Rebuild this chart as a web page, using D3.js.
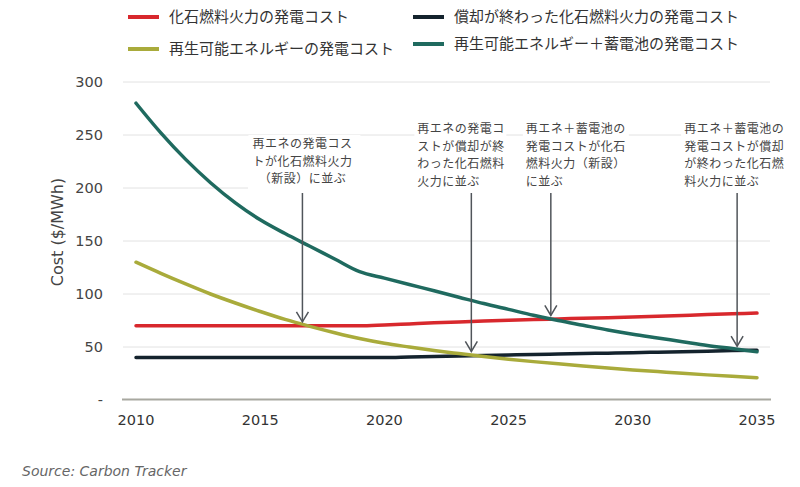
<!DOCTYPE html>
<html>
<head>
<meta charset="utf-8">
<script src="https://cdn.jsdelivr.net/npm/d3@7"></script>
<style>
  body { margin: 0; background: #fff; }
  svg { display: block; }
</style>
</head>
<body>
<div id="chart"></div>
<script>
// data
const years = d3.range(2010, 2036)
const fossilNew = [70, 70, 70, 70, 70, 70, 70, 70, 70, 70, 70.8, 71.8, 72.8, 73.7, 74.5, 75.2, 75.9, 76.5, 77.1, 77.7, 78.3, 79, 79.8, 80.6, 81.3, 82]
const fossilDep = [40, 40, 40, 40, 40, 40, 40, 40, 40, 40, 40, 40.5, 41, 41.5, 42, 42.5, 43, 43.4, 43.8, 44.2, 44.6, 45.1, 45.6, 46.1, 46.6, 47]
const renew = [130, 119.5, 109.5, 100, 91.5, 83.5, 76, 69.5, 63.5, 58, 53.5, 50, 46.7, 43.8, 41, 38.5, 36.2, 34.1, 32.1, 30.2, 28.4, 26.8, 25.2, 23.7, 22.3, 21]
const renewBatt = [280, 252, 227, 205, 186, 170, 157, 145, 133, 121, 115, 109, 103, 97, 91, 85.5, 80, 75, 70.5, 66, 62, 58.5, 55, 51.5, 48.5, 45.5]

const seriesNames = ['化石燃料火力の発電コスト', '償却が終わった化石燃料火力の発電コスト',
  '再生可能エネルギーの発電コスト', '再生可能エネルギー＋蓄電池の発電コスト']
const seriesColors = ['#d8282d', '#14232d', '#a9ab3b', '#1f6a5f']
const seriesValues = [fossilNew, fossilDep, renew, renewBatt]

const yTicks = [0, 50, 100, 150, 200, 250, 300]
const xTicks = [2010, 2015, 2020, 2025, 2030, 2035]

// annotations: year of crossing, value of crossing, text lines
const annYears = [2016.7, 2023.5, 2026.7, 2034.2]
const annValues = [70, 42, 76, 47]
const annTexts = [
  ['再エネの発電コス', 'トが化石燃料火力', '（新設）に並ぶ'],
  ['再エネの発電コ', 'ストが償却が終', 'わった化石燃料', '火力に並ぶ'],
  ['再エネ＋蓄電池の', '発電コストが化石', '燃料火力（新設）', 'に並ぶ'],
  ['再エネ＋蓄電池の', '発電コストが償却', 'が終わった化石燃', '料火力に並ぶ']
]

const W = 800
const H = 487
const numFont = '"DejaVu Sans", sans-serif'
const jpFont = '"Noto Sans CJK JP", sans-serif'

const svg = d3.select('#chart').append('svg')
  .attr('width', W)
  .attr('height', H)

const x = d3.scaleLinear().domain([2010, 2035]).range([136, 757])
const y = d3.scaleLinear().domain([0, 300]).range([400, 82])

// gridlines
svg.append('g')
  .selectAll('line')
  .data(yTicks.filter((d) => d > 0))
  .enter()
  .append('line')
  .attr('x1', 123)
  .attr('x2', 770)
  .attr('y1', (d) => y(d))
  .attr('y2', (d) => y(d))
  .attr('stroke', '#e2e2e2')
  .attr('stroke-width', 1)

// baseline
svg.append('line')
  .attr('x1', 122)
  .attr('x2', 771)
  .attr('y1', y(0) - 0.5)
  .attr('y2', y(0) - 0.5)
  .attr('stroke', '#a8a8a0')
  .attr('stroke-width', 2)

// y ticks
svg.append('g')
  .selectAll('text')
  .data(yTicks)
  .enter()
  .append('text')
  .attr('x', 103)
  .attr('y', (d) => y(d))
  .attr('dy', '0.35em')
  .attr('text-anchor', 'end')
  .style('font-family', numFont)
  .style('font-size', '14.5px')
  .attr('fill', '#444')
  .text((d) => d === 0 ? '-' : d)

// x ticks
svg.append('g')
  .selectAll('text')
  .data(xTicks)
  .enter()
  .append('text')
  .attr('x', (d) => x(d))
  .attr('y', 420)
  .attr('dy', '0.35em')
  .attr('text-anchor', 'middle')
  .style('font-family', numFont)
  .style('font-size', '14.5px')
  .attr('fill', '#333')
  .text((d) => d)

// y label
svg.append('text')
  .attr('transform', 'translate(57,232) rotate(-90)')
  .attr('dy', '0.35em')
  .attr('text-anchor', 'middle')
  .style('font-family', numFont)
  .style('font-size', '16px')
  .attr('fill', '#444')
  .text('Cost ($/MWh)')

// lines
const line = d3.line()
  .x((d, i) => x(years[i]))
  .y((d) => y(d))
  .curve(d3.curveMonotoneX)

svg.append('g')
  .selectAll('path')
  .data(seriesValues)
  .enter()
  .append('path')
  .attr('d', (d) => line(d))
  .attr('fill', 'none')
  .attr('stroke', (d, i) => seriesColors[i])
  .attr('stroke-width', 3.5)
  .attr('stroke-linecap', 'round')

// annotations
const annTop = 193
const lineH = 17.5
const annDx = [0, -54, -25, -53]
const annAnchor = ['middle', 'start', 'start', 'start']
const annFirst = [144, 129, 129, 129]

// white boxes behind the notes
svg.append('rect')
  .attr('x', 248).attr('y', 182)
  .attr('width', 517).attr('height', 12)
  .attr('fill', '#fff')
annTexts.forEach((lines, k) => {
  let ax = x(annYears[k])
  let left = annAnchor[k] === 'middle' ? ax - 54 : ax + annDx[k] - 3
  let width = annAnchor[k] === 'middle' ? 112 : (k === 1 ? 92 : 106)
  svg.append('rect')
    .attr('x', left)
    .attr('y', annFirst[k] - 9)
    .attr('width', width)
    .attr('height', annTop - annFirst[k] + 9)
    .attr('fill', '#fff')
})

annTexts.forEach((lines, k) => {
  let ax = x(annYears[k])
  let tip = y(annValues[k]) - 4
  let g = svg.append('g')

  g.selectAll('text')
    .data(lines)
    .enter()
    .append('text')
    .attr('x', ax + annDx[k])
    .attr('y', (d, i) => annFirst[k] + i * lineH)
    .attr('dy', '0.35em')
    .attr('text-anchor', annAnchor[k])
    .style('font-family', jpFont)
    .style('font-size', '12px')
    .style('letter-spacing', '0.5px')
    .attr('fill', '#444')
    .text((d) => d)

  g.append('line')
    .attr('x1', ax).attr('x2', ax)
    .attr('y1', annTop).attr('y2', tip)
    .attr('stroke', '#50555a')
    .attr('stroke-width', 1.5)

  g.append('path')
    .attr('d', `M${ax - 6},${tip - 10} L${ax},${tip} L${ax + 6},${tip - 10}`)
    .attr('fill', 'none')
    .attr('stroke', '#50555a')
    .attr('stroke-width', 1.5)
})

// legend
const legX = [128, 413, 128, 413]
const legY = [17, 17, 49, 44]
const leg = svg.append('g')
leg.selectAll('line')
  .data(seriesNames)
  .enter()
  .append('line')
  .attr('x1', (d, i) => legX[i])
  .attr('x2', (d, i) => legX[i] + 31)
  .attr('y1', (d, i) => legY[i])
  .attr('y2', (d, i) => legY[i])
  .attr('stroke', (d, i) => seriesColors[i])
  .attr('stroke-width', 4)
leg.selectAll('text')
  .data(seriesNames)
  .enter()
  .append('text')
  .attr('x', (d, i) => legX[i] + 41)
  .attr('y', (d, i) => legY[i])
  .attr('dy', '0.35em')
  .style('font-family', jpFont)
  .style('font-size', '15px')
  .attr('fill', '#333')
  .text((d) => d)

// source
svg.append('text')
  .attr('x', 22)
  .attr('y', 471)
  .attr('dy', '0.35em')
  .style('font-family', numFont)
  .style('font-size', '14px')
  .style('font-style', 'italic')
  .attr('fill', '#666')
  .text('Source:  Carbon Tracker')
</script>
</body>
</html>
